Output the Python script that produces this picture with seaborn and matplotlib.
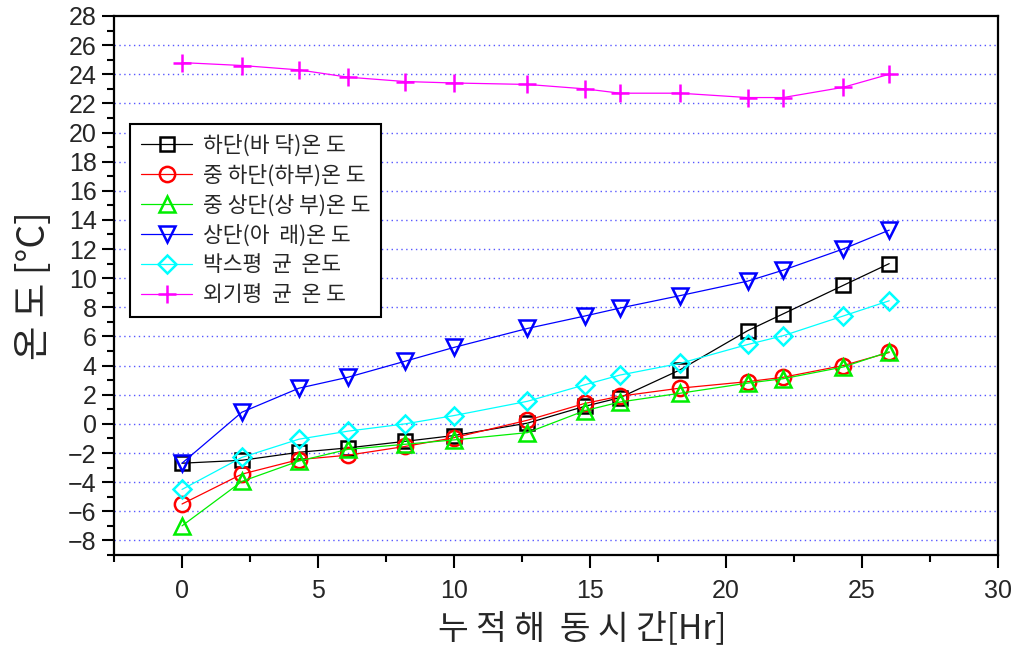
import matplotlib
matplotlib.use("Agg")
import matplotlib.pyplot as plt
from matplotlib.ticker import MultipleLocator
import seaborn as sns
import pandas as pd

# Accumulated defrost time [Hr]
hours = [0, 2.2, 4.3, 6.1, 8.2, 10, 12.7, 14.8, 16.1, 18.3, 20.8, 22.1, 24.3, 26]

# Temperatures [°C]
bottom_temp = [-2.7, -2.5, -1.95, -1.65, -1.2, -0.8, 0.05, 1.2, 1.8, 3.7, 6.4, 7.55, 9.5, 11.0]
mid_low_temp = [-5.5, -3.45, -2.45, -2.15, -1.55, -0.95, 0.25, 1.4, 1.9, 2.45, 2.9, 3.2, 4.0, 4.9]
mid_high_temp = [-7.0, -3.95, -2.55, -1.75, -1.4, -1.1, -0.6, 0.9, 1.5, 2.1, 2.8, 3.1, 3.9, 4.95]
top_temp = [-2.7, 0.8, 2.45, 3.2, 4.3, 5.25, 6.55, 7.4, 7.95, 8.8, 9.8, 10.55, 12.0, 13.3]
box_avg_temp = [-4.5, -2.3, -1.05, -0.5, 0.0, 0.57, 1.55, 2.68, 3.35, 4.15, 5.45, 6.05, 7.4, 8.45]
outdoor_avg_temp = [24.8, 24.6, 24.3, 23.8, 23.5, 23.4, 23.3, 23.0, 22.7, 22.7, 22.4, 22.4, 23.1, 24.0]

series_labels = [
    "하단(바 닥)온 도",
    "중 하단(하부)온 도",
    "중 상단(상 부)온 도",
    "상단(아  래)온 도",
    "박스평  균  온도",
    "외기평  균  온 도",
]

x_ticks = [0, 5, 10, 15, 20, 25, 30]
y_ticks = list(range(-8, 29, 2))

sns.set_style("ticks")
plt.rcParams["font.family"] = ["Noto Sans CJK KR", "DejaVu Sans"]

series = [bottom_temp, mid_low_temp, mid_high_temp, top_temp, box_avg_temp, outdoor_avg_temp]
styles = [
    dict(color="#000000", marker="s", ms=10.5),
    dict(color="#ff0000", marker="o", ms=11),
    dict(color="#00ee00", marker="^", ms=11.5),
    dict(color="#0000ff", marker="v", ms=11.5),
    dict(color="#00ffff", marker="D", ms=9.5),
    dict(color="#ff00ff", marker="+", ms=13),
]

fig = plt.figure(figsize=(10.19, 6.55), dpi=100)
ax = fig.add_axes([0.1119, 0.1527, 0.8675, 0.8229])

for vals, label, st in zip(series, series_labels, styles):
    df = pd.DataFrame({"hr": hours, "temp": vals})
    sns.lineplot(
        data=df, x="hr", y="temp", ax=ax, label=label,
        color=st["color"], marker=st["marker"], markersize=st["ms"],
        markerfacecolor="none" if st["marker"] != "+" else st["color"],
        markeredgecolor=st["color"], markeredgewidth=1.8,
        linewidth=0.9, sort=False, errorbar=None,
    )

ax.set_xlim(-2.5, 30)
ax.set_ylim(-9, 28)
ax.set_xticks(x_ticks)
ax.set_yticks(y_ticks)
ax.xaxis.set_minor_locator(MultipleLocator(2.5))
ax.yaxis.set_minor_locator(MultipleLocator(1))

# dotted horizontal guide lines
for yv in y_ticks[:-1]:
    ax.axhline(yv, color="#3a3aff", linestyle=(0, (1, 2.5)), linewidth=1.0, alpha=0.85, zorder=0)

for sp in ax.spines.values():
    sp.set_linewidth(1.6)
    sp.set_color("black")
    sp.set_visible(True)

ax.tick_params(axis="both", which="major", direction="out", length=9, width=1.5, color="black")
ax.tick_params(axis="both", which="minor", direction="out", length=5, width=1.5, color="black")
ax.tick_params(right=False, top=False, which="both")

for lab in ax.get_yticklabels():
    lab.set_family(["Liberation Sans", "DejaVu Sans"])
    lab.set_fontsize(18)
for lab in ax.get_xticklabels():
    lab.set_family(["Liberation Sans Narrow", "Liberation Sans", "DejaVu Sans"])
    lab.set_fontsize(18)
ax.tick_params(axis="x", pad=8)

ax.set_xlabel("누 적 해  동 시 간[Hr]", fontsize=24)
ax.xaxis.set_label_coords(0.53, -0.105)
ax.set_ylabel("온 도 [°C]", fontsize=27, labelpad=10,
              family=["Noto Sans CJK KR", "DejaVu Sans"])

leg = ax.legend(
    loc="upper left", bbox_to_anchor=(0.018, 0.80), borderaxespad=0, fontsize=15.5,
    frameon=True, fancybox=False, framealpha=1, edgecolor="black",
    handlelength=2.4, handletextpad=0.5, borderpad=0.5, labelspacing=0.36,
    numpoints=1,
)
leg.get_frame().set_linewidth(1.5)

fig.savefig("out.png", dpi=100)
